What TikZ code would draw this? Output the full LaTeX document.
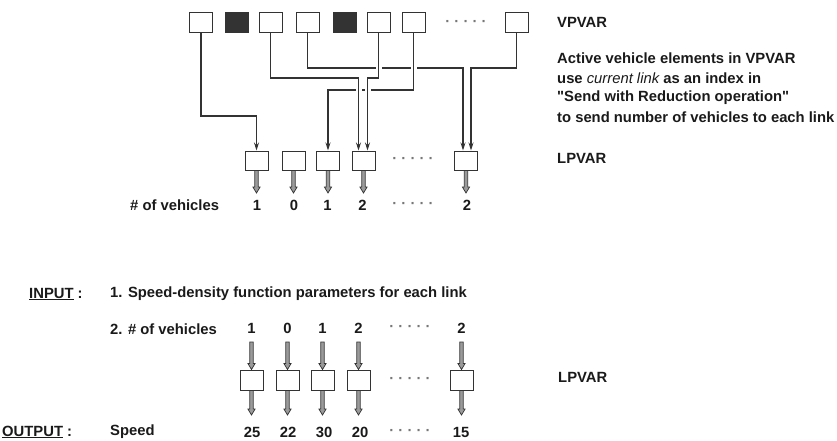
\documentclass[tikz,border=0pt]{standalone}
\usepackage{fontspec}
\setmainfont{Liberation Sans}[Ligatures=TeXOff]
\usetikzlibrary{arrows.meta,backgrounds}
\definecolor{txt}{HTML}{1A1A1A}
\definecolor{ln}{HTML}{333333}
\definecolor{shaft}{HTML}{9A9A9A}
\definecolor{dotc}{HTML}{777777}
\newcommand\fatarrow[2]{\draw[fatarr] ([xshift=-1.7pt]#1) -- ([xshift=-1.7pt,yshift=6pt]#2) -- ([xshift=-3.6pt,yshift=6pt]#2) -- (#2) -- ([xshift=3.6pt,yshift=6pt]#2) -- ([xshift=1.7pt,yshift=6pt]#2) -- ([xshift=1.7pt]#1) -- cycle;}
\begin{document}
\begin{tikzpicture}[x=1pt,y=-1pt,
  every node/.style={font=\fontsize{14.8}{17}\selectfont\bfseries, text=txt, inner sep=0pt},
  vbox/.style={draw=ln, line width=1pt, minimum width=23pt, minimum height=20pt},
  vfill/.style={vbox, fill=ln},
  lbox/.style={draw=ln, line width=1pt, minimum width=23pt, minimum height=19pt},
  conn/.style={draw=ln, line width=1.1pt, -{Stealth[length=8pt,width=5pt]}},
  halo/.style={preaction={draw=white, line width=6pt, -}},
  fatarr/.style={draw=ln, fill=shaft, line width=0.7pt, line join=miter},
  dotsty/.style={text=dotc},
  lbl/.style={anchor=west},
]
\useasboundingbox (0,0) rectangle (837,441);

% ---------- top: VPVAR ----------
\node[vbox]  (v1) at (201,23) {};
\node[vfill] (v2) at (236.5,23) {};
\node[vbox]  (v3) at (270.5,23) {};
\node[vbox]  (v4) at (307.5,23) {};
\node[vfill] (v5) at (344.5,23) {};
\node[vbox]  (v6) at (378.5,23) {};
\node[vbox]  (v7) at (413.5,23) {};
\node[dotsty] (vd) at (466,23) {· · · · ·};
\node[vbox]  (v8) at (516.5,23) {};

% ---------- top: LPVAR ----------
\node[lbox] (l1) at (256.5,160.5) {};
\node[lbox] (l2) at (293.5,160.5) {};
\node[lbox] (l3) at (328,160.5) {};
\node[lbox] (l4) at (363.5,160.5) {};
\node[dotsty] (ld) at (413,160.5) {· · · · ·};
\node[lbox] (l5) at (466,160.5) {};

\coordinate (l4a) at ([xshift=-5pt]l4.north);
\coordinate (l4b) at ([xshift=4pt]l4.north);
\coordinate (l5a) at ([xshift=-3pt]l5.north);
\coordinate (l5b) at ([xshift=5pt]l5.north);
\coordinate (k1) at (l1.north |- 0,116);
\coordinate (k3) at (l4a |- 0,78);
\coordinate (k6) at (l4b |- 0,78);
\coordinate (k7) at (l3.north |- 0,90);
\coordinate (k4) at (l5a |- 0,68);
\coordinate (k8) at (l5b |- 0,68);

\begin{scope}[on background layer]
\draw[conn] (v4.south) |- (k4) -- (l5a);
\draw[conn] (v8.south) |- (k8) -- (l5b);
\draw[conn,halo] (v7.south) |- (k7) -- (l3.north);
\draw[conn,halo] (v3.south) |- (k3) -- (l4a);
\draw[conn,halo] (v6.south) |- (k6) -- (l4b);
\draw[conn] (v1.south) |- (k1) -- (l1.north);
\end{scope}

\coordinate (t1) at (l1.south |- 0,193);
\coordinate (t2) at (l2.south |- 0,193);
\coordinate (t3) at (l3.south |- 0,193);
\coordinate (t4) at (l4.south |- 0,193);
\coordinate (t5) at (l5.south |- 0,193);
\fatarrow{l1.south}{t1}
\fatarrow{l2.south}{t2}
\fatarrow{l3.south}{t3}
\fatarrow{l4.south}{t4}
\fatarrow{l5.south}{t5}

\node[lbl] (hv) at (130,205.5) {\# of vehicles};
\node (m1) at (257,205.5) {1};
\node (m2) at (294,205.5) {0};
\node (m3) at (327.5,205.5) {1};
\node (m4) at (362.5,205.5) {2};
\node[dotsty] (md) at (413,205.5) {· · · · ·};
\node (m5) at (467,205.5) {2};

% ---------- right labels ----------
\node[lbl] (vp) at (557,22) {VPVAR};
\node[lbl] (p1) at (557,58) {Active vehicle elements in VPVAR};
\node[lbl] (p2) at (557,78) {use {\mdseries\itshape current link} as an index in};
\node[lbl] (p3) at (557,97.5) {"Send with Reduction operation"};
\node[lbl] (p4) at (557,117) {to send number of vehicles to each link};
\node[lbl] (lp) at (557,158) {LPVAR};

% ---------- bottom ----------
\node[lbl] (inp) at (29,294) {\underline{INPUT} :};
\node[lbl] (s1) at (110,294) {1. Speed-density function parameters for each link};
\node[lbl] (s2) at (110,329) {2. \# of vehicles};

\node (q1) at (251.5,328.5) {1};
\node (q2) at (287.5,328.5) {0};
\node (q3) at (322.5,328.5) {1};
\node (q4) at (358.5,328.5) {2};
\node[dotsty] (qd) at (410,328.5) {· · · · ·};
\node (q5) at (461.5,328.5) {2};

\node[lbox,minimum height=20pt] (b1) at (251.5,380) {};
\node[lbox,minimum height=20pt] (b2) at (287.5,380) {};
\node[lbox,minimum height=20pt] (b3) at (322.5,380) {};
\node[lbox,minimum height=20pt] (b4) at (358.5,380) {};
\node[dotsty] (bd) at (410,380) {· · · · ·};
\node[lbox,minimum height=20pt] (b5) at (461.5,380) {};

\foreach \i in {1,...,5}{
  \coordinate (a\i) at (b\i.north |- 0,342);
  \coordinate (o\i) at (b\i.south |- 0,415);
  \fatarrow{a\i}{b\i.north}
  \fatarrow{b\i.south}{o\i}
}

\node[lbl] (lp2) at (558,377) {LPVAR};

\node[lbl] (outp) at (2,432) {\underline{OUTPUT} :};
\node[lbl] (spd) at (110,432) {Speed};
\node (r1) at (252,432) {25};
\node (r2) at (288,432) {22};
\node (r3) at (324,432) {30};
\node (r4) at (360,432) {20};
\node[dotsty] (rd) at (410,432) {· · · · ·};
\node (r5) at (461,432) {15};
\end{tikzpicture}
\end{document}
